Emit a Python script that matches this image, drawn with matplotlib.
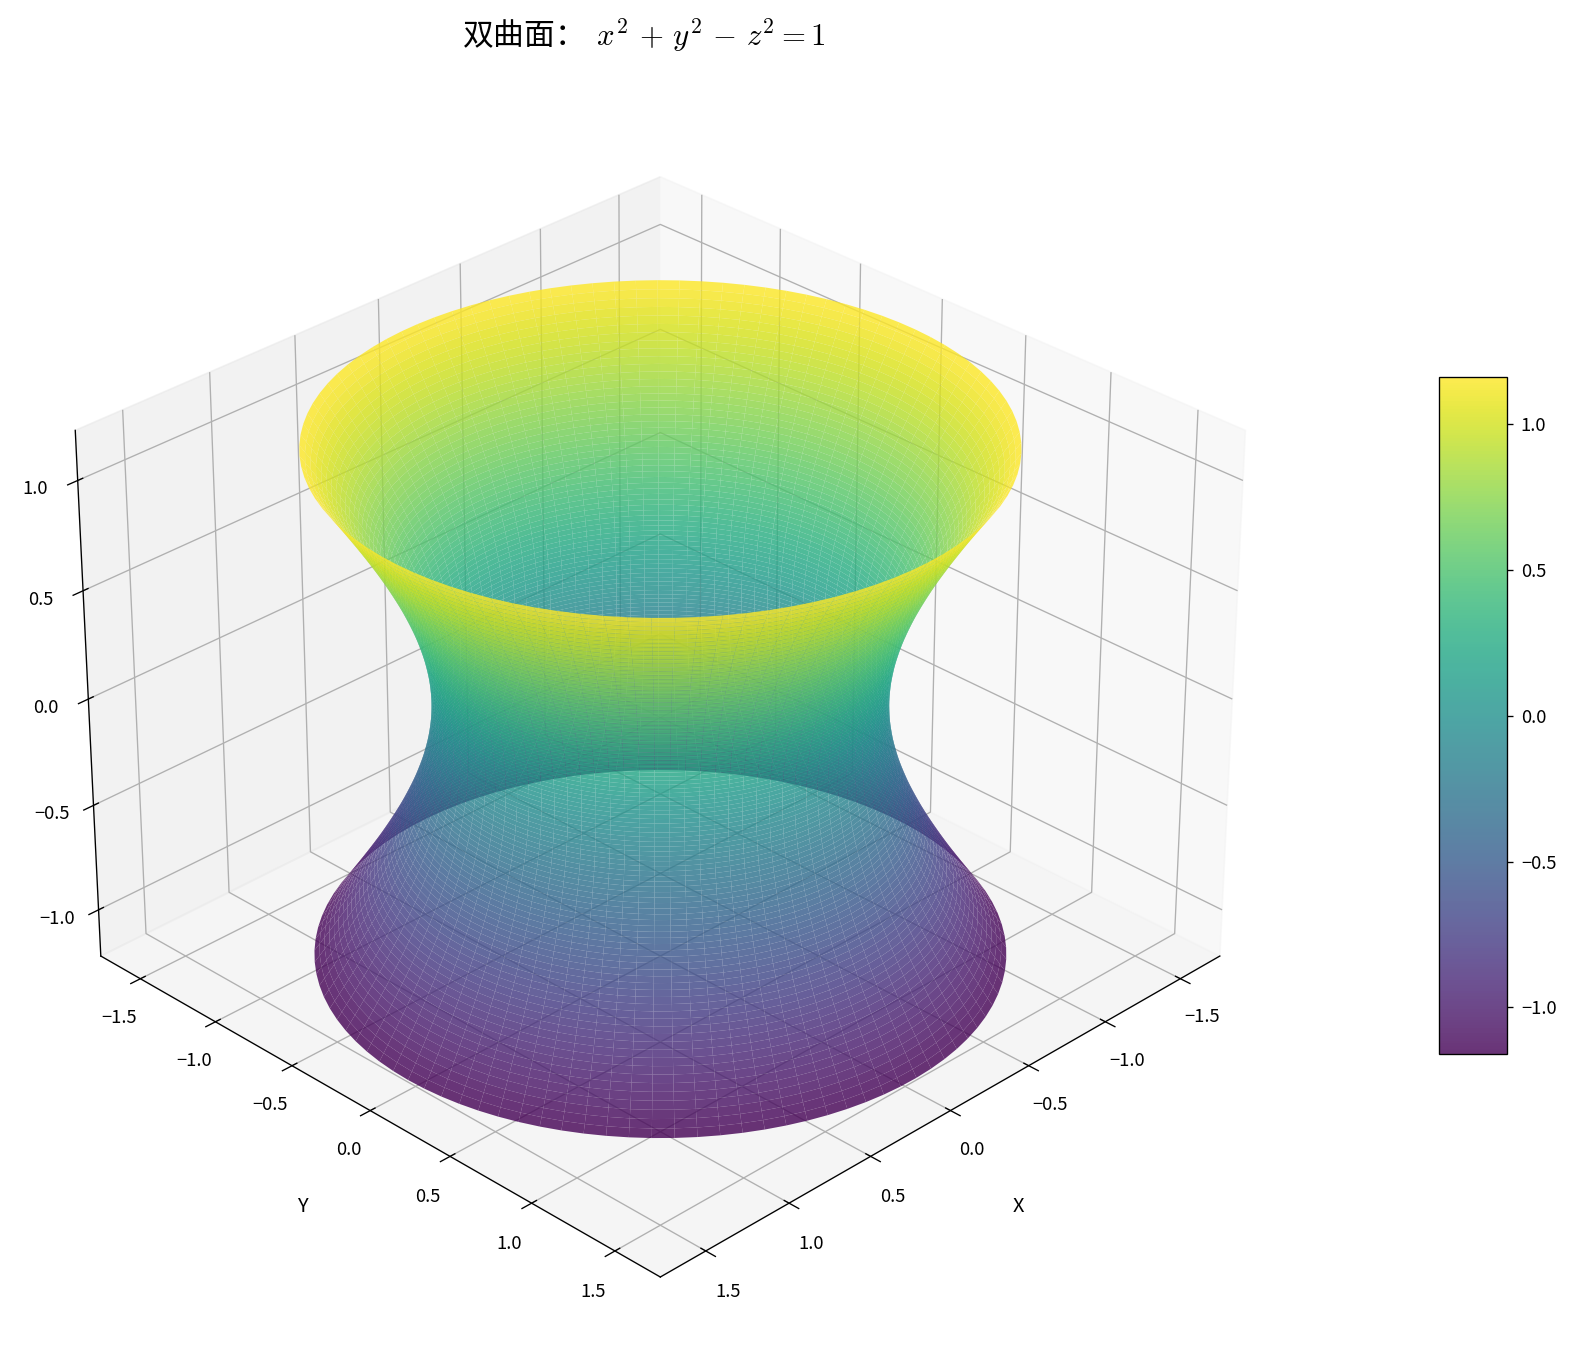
import numpy as np
import matplotlib
matplotlib.use('Agg')
import matplotlib.pyplot as plt

plt.rcParams['font.family'] = ['Noto Sans CJK SC', 'DejaVu Sans']
plt.rcParams['axes.unicode_minus'] = True
plt.rcParams['mathtext.fontset'] = 'cm'

# Surface parameters: x^2 + y^2 - z^2 = 1
v_limit = [-1.0, 1.0]
n_u = 100
n_v = 100
axis_ticks = [-1.5, -1.0, -0.5, 0.0, 0.5, 1.0, 1.5]
z_ticks = [-1.0, -0.5, 0.0, 0.5, 1.0]
title = '双曲面： $\\,x^2\\,+\\,y^2\\,-\\,z^2=1$'

u = np.linspace(0, 2 * np.pi, n_u)
v = np.linspace(v_limit[0], v_limit[1], n_v)
U, V = np.meshgrid(u, v)
X = np.cosh(V) * np.cos(U)
Y = np.cosh(V) * np.sin(U)
Z = np.sinh(V)

fig = plt.figure(figsize=(1577 / 120, 1359 / 120), dpi=120)
ax = fig.add_axes([-0.0348, 0.0106, 0.8855, 0.925], projection='3d')
surf = ax.plot_surface(X, Y, Z, cmap='viridis', alpha=0.8, rstride=1, cstride=1,
                       linewidth=0, antialiased=True)
ax.set_xticks(axis_ticks)
ax.set_yticks(axis_ticks)
ax.set_zticks(z_ticks)
ax.tick_params(labelsize=11, pad=6.5)
ax.set_xlabel('X', fontsize=12, labelpad=24)
ax.set_ylabel('Y', fontsize=12, labelpad=24)
ax.view_init(elev=30, azim=45)
fig.text(0.4085, 0.973, title, fontsize=18.5, ha='center', va='center')

cax = fig.add_axes([0.9126, 0.2244, 0.0428, 0.498])
cb = fig.colorbar(surf, cax=cax)
cb.set_ticks(z_ticks)
cb.ax.tick_params(labelsize=11, pad=5)
fig.savefig('out.png', dpi=120)
